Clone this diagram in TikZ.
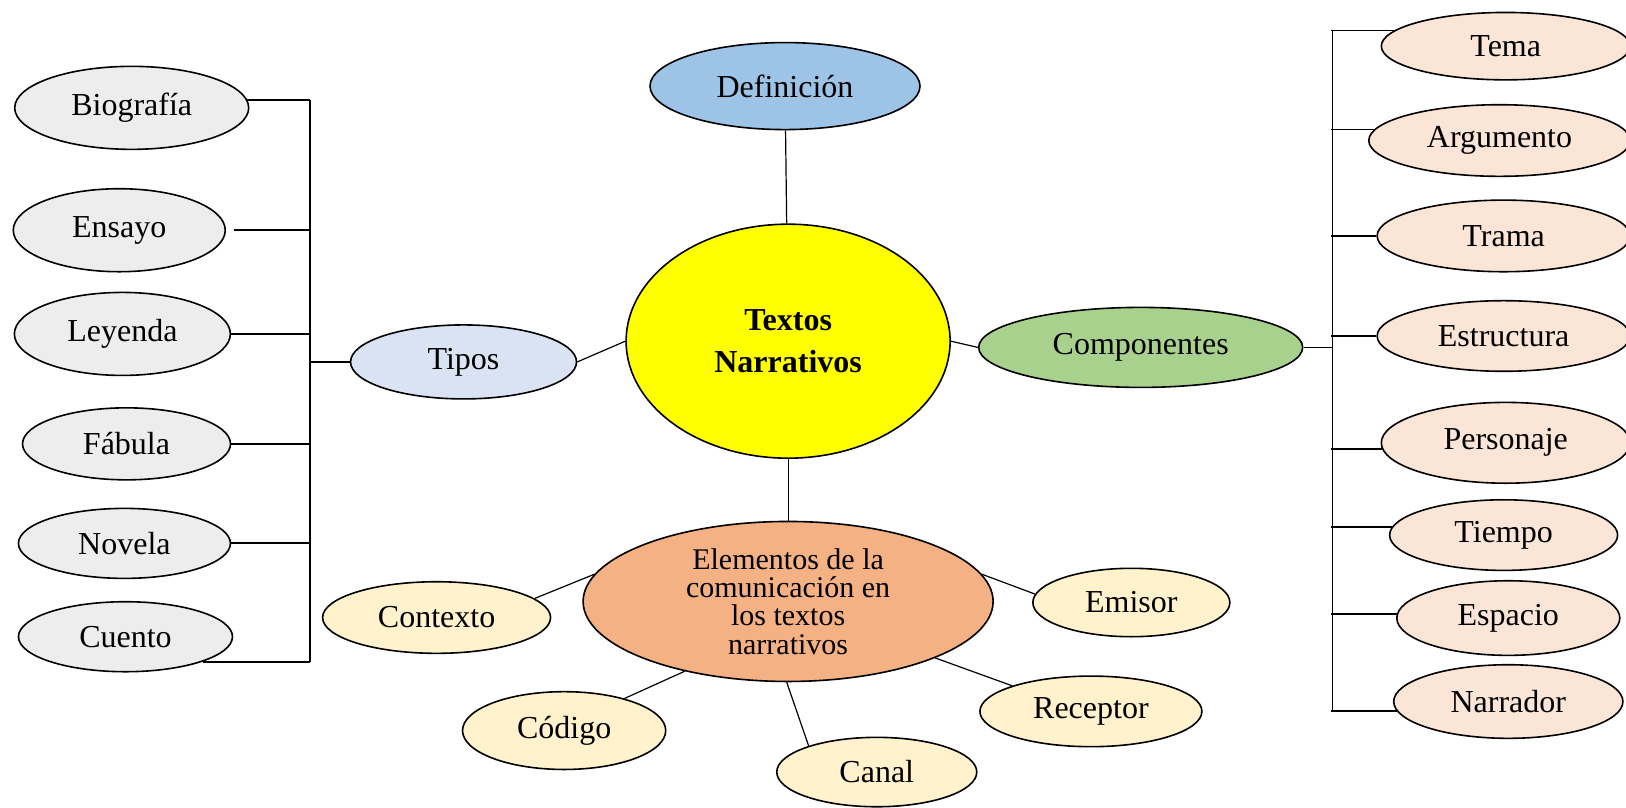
\documentclass[tikz,border=0pt]{standalone}
\usepackage{fontspec}
\setmainfont{Liberation Serif}
\usepackage{xcolor}
\usetikzlibrary{shapes.geometric}

\definecolor{tipogray}{HTML}{EDEDED}
\definecolor{tiposblue}{HTML}{DAE3F3}
\definecolor{defblue}{HTML}{9DC3E6}
\definecolor{compgreen}{HTML}{A9D18E}
\definecolor{comppeach}{HTML}{FBE5D6}
\definecolor{elemorange}{HTML}{F4B183}
\definecolor{elemcream}{HTML}{FFF2CC}
\definecolor{centreyellow}{HTML}{FFFF00}

\begin{document}
\begin{tikzpicture}[
  x=0.5185pt, y=-0.5185pt,
  bubble/.style={ellipse, draw, line width=0.8pt, inner sep=0pt,
                 font=\fontsize{16}{18}\selectfont, align=center},
  sz/.style 2 args={minimum width=#1pt, minimum height=#2pt},
  tipo/.style={bubble, fill=tipogray},
  part/.style={bubble, fill=comppeach},
  elem/.style={bubble, fill=elemcream},
  link/.style={line width=0.6pt},
  bar/.style={line width=0.9pt},
]
  \useasboundingbox (0,0) rectangle (1568,779);

  % centre
  \node[bubble, fill=centreyellow, sz={162}{117},
        font=\fontsize{16}{21}\selectfont\bfseries] (texto) at (760,329) {Textos\\Narrativos};
  \node[bubble, fill=defblue, sz={135}{43.5}] (defi) at (757,83) {Definición};
  \node[bubble, fill=tiposblue, sz={113}{37}] (tipos) at (447,349) {Tipos};
  \node[bubble, fill=compgreen, sz={162}{40}] (comp) at (1100,335) {Componentes};
  \node[bubble, fill=elemorange, sz={205}{80},
        font=\fontsize{15}{14.2}\selectfont] (elem) at (760,580)
        {Elementos de la\\comunicación en\\los textos\\narrativos};

  % tipos
  \node[tipo, sz={117}{41.5}] (bio) at (127,104) {Biografía};
  \node[tipo, sz={106}{41.5}] (ens) at (115,222) {Ensayo};
  \node[tipo, sz={108}{41.5}] (ley) at (118,322) {Leyenda};
  \node[tipo, sz={104}{36}]   (fab) at (122,428) {Fábula};
  \node[tipo, sz={106}{35}]   (nov) at (120,524) {Novela};
  \node[tipo, sz={107}{35}]   (cue) at (121,614) {Cuento};

  % componentes
  \node[part, sz={124.4}{33.7}] (tema) at (1452,44.5)  {Tema};
  \node[part, sz={130.7}{35.8}] (arg)  at (1446,135.5) {Argumento};
  \node[part, sz={126.5}{35.8}] (tram) at (1450,227.5) {Trama};
  \node[part, sz={126.5}{35.3}] (est)  at (1450,324)   {Estructura};
  \node[part, sz={124.4}{40.4}] (pers) at (1452,427)   {Personaje};
  \node[part, sz={114}{35.3}]   (tiem) at (1450,516)   {Tiempo};
  \node[part, sz={111.5}{37.3}] (esp)  at (1454.5,596) {Espacio};
  \node[part, sz={114.6}{36.8}] (narr) at (1454.5,676.5) {Narrador};

  % elementos
  \node[elem, sz={114}{35.8}]  (ctx) at (421,595.5)   {Contexto};
  \node[elem, sz={101.6}{38.9}] (cod) at (544,704.5)  {Código};
  \node[elem, sz={100}{34.7}]  (can) at (845.5,744.5) {Canal};
  \node[elem, sz={111}{35.3}]  (rec) at (1052,686)    {Receptor};
  \node[elem, sz={98.5}{34.2}] (emi) at (1091,581)    {Emisor};

  \coordinate (lbar) at (299,0);
  \coordinate (rbar) at (1285,0);

  \draw[link] (defi) -- (texto);
  \draw[link] (tipos.east) -- (texto.west);
  \draw[link] (texto.east) -- (comp.west);
  \draw[link] (comp.east) -- (comp.east -| rbar);
  \draw[link] (texto.south) -- (elem.north);
  \draw[link] (elem.172) -- (ctx.11);
  \draw[link] (elem.214) -- (cod.28);
  \draw[link] (elem.269) -- (can.159);
  \draw[link] (elem.-21.5) -- (rec.162);
  \draw[link] (elem.8) -- (emi.175);

  % left bracket
  \draw[bar] (bio.4 -| lbar) -- (cue.-18 -| lbar);
  \draw[bar] (bio.4) -- (bio.4 -| lbar);
  \draw[bar] ([xshift=4pt]ens.east) -- (ens.east -| lbar);
  \draw[bar] (ley.east) -- (ley.east -| lbar);
  \draw[bar] (fab.east) -- (fab.east -| lbar);
  \draw[bar] (nov.east) -- (nov.east -| lbar);
  \draw[bar] (cue.-18) -- (cue.-18 -| lbar);
  \draw[link] (tipos.west) -- (tipos.west -| lbar);

  % right bracket
  \draw[bar] (tema.172 -| rbar) -- (narr.185 -| rbar);
  \draw[bar] (tema.172) -- ([xshift=-1pt]tema.172 -| rbar);
  \draw[bar] (arg.175) -- ([xshift=-1pt]arg.175 -| rbar);
  \draw[bar] (tram.west) -- ([xshift=-1pt]tram.west -| rbar);
  \draw[bar] (est.west) -- ([xshift=-1pt]est.west -| rbar);
  \draw[bar] (pers.183) -- ([xshift=-1pt]pers.183 -| rbar);
  \draw[bar] (tiem.176) -- ([xshift=-1pt]tiem.176 -| rbar);
  \draw[bar] (esp.178) -- ([xshift=-1pt]esp.178 -| rbar);
  \draw[bar] (narr.185) -- ([xshift=-1pt]narr.185 -| rbar);
\end{tikzpicture}
\end{document}
